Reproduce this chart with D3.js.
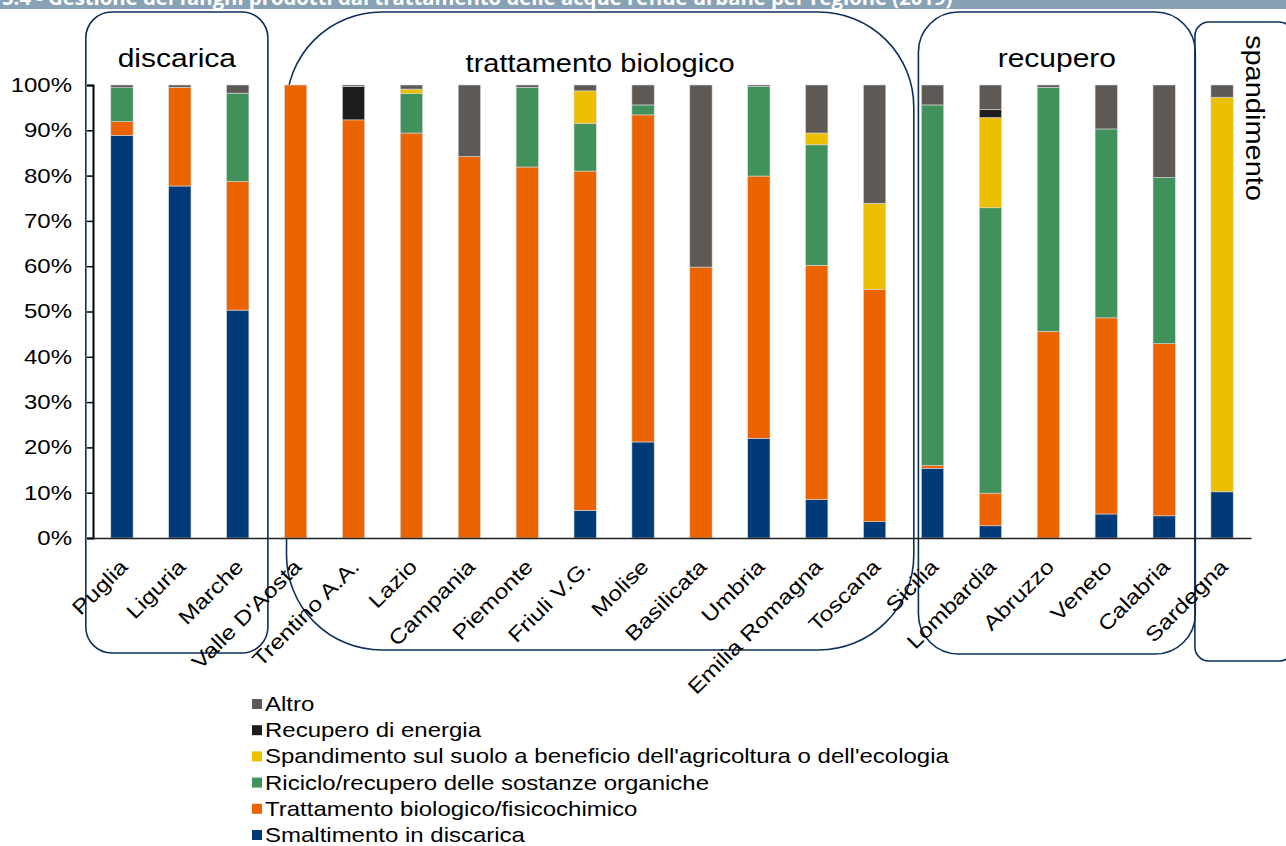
<!DOCTYPE html>
<html>
<head>
<meta charset="utf-8">
<script src="https://cdn.jsdelivr.net/npm/d3@7"></script>
<style>
  html, body { margin: 0; padding: 0; background: #fff; }
  svg { display: block; }
</style>
</head>
<body>
<svg id="chart" width="1286" height="846"></svg>
<script>
// Regions, ordered by prevalent sludge destination
const regions = ["Puglia", "Liguria", "Marche", "Valle D'Aosta", "Trentino A.A.", "Lazio", "Campania",
  "Piemonte", "Friuli V.G.", "Molise", "Basilicata", "Umbria", "Emilia Romagna", "Toscana",
  "Sicilia", "Lombardia", "Abruzzo", "Veneto", "Calabria", "Sardegna"];

// Shares (%) of each destination, per region
const smaltimento = [88.9, 77.7, 50.3, 0, 0, 0, 0, 0, 6.1, 21.2, 0, 22.0, 8.5, 3.6, 15.4, 2.7, 0, 5.3, 4.9, 10.2];
const trattamento = [3.0, 21.8, 28.4, 100, 92.3, 89.4, 84.2, 81.9, 74.9, 72.2, 59.8, 57.9, 51.7, 51.3, 0.6, 7.2, 45.6, 43.3, 38.0, 0];
const riciclo     = [7.5, 0, 19.5, 0, 0, 8.7, 0, 17.6, 10.5, 2.2, 0, 19.8, 26.6, 0, 79.6, 63.0, 53.9, 41.7, 36.7, 0];
const spandimento = [0, 0, 0, 0, 0, 1.0, 0, 0, 7.2, 0, 0, 0, 2.6, 19.0, 0, 19.9, 0, 0, 0, 87.1];
const energia     = [0, 0, 0, 0, 7.4, 0, 0, 0, 0, 0, 0, 0, 0, 0, 0, 1.8, 0, 0, 0, 0];
const altro       = [0.6, 0.5, 1.8, 0, 0.3, 0.9, 15.8, 0.5, 1.3, 4.4, 40.2, 0.3, 10.6, 26.1, 4.4, 5.4, 0.5, 9.7, 20.4, 2.7];

// Series, bottom to top in the stack
const seriesKeys = ["smaltimento", "trattamento", "riciclo", "spandimento", "energia", "altro"];
const seriesValues = { smaltimento, trattamento, riciclo, spandimento, energia, altro };
const seriesNames = {
  smaltimento: "Smaltimento in discarica",
  trattamento: "Trattamento biologico/fisicochimico",
  riciclo: "Riciclo/recupero delle sostanze organiche",
  spandimento: "Spandimento sul suolo a beneficio dell'agricoltura o dell'ecologia",
  energia: "Recupero di energia",
  altro: "Altro"
};
const seriesColors = {
  smaltimento: "#003a78",
  trattamento: "#ec6400",
  riciclo: "#41915b",
  spandimento: "#ecbf00",
  energia: "#1e1d1b",
  altro: "#5e5955"
};

// Y ticks
const yTicks = [0, 0.1, 0.2, 0.3, 0.4, 0.5, 0.6, 0.7, 0.8, 0.9, 1.0];

// Groups of regions framed by rounded boxes
const groups = [
  { label: "discarica", first: "Puglia", last: "Marche" },
  { label: "trattamento biologico", first: "Valle D'Aosta", last: "Toscana" },
  { label: "recupero", first: "Sicilia", last: "Calabria" },
  { label: "spandimento", first: "Sardegna", last: "Sardegna", vertical: true }
];

const FONT = "Liberation Sans, Arial, Helvetica, sans-serif";
const SX = 1.2; // wide lettering: horizontal stretch applied to the chart texts
const svg = d3.select("#chart");

// Heading band at the top edge (text shows only its lower part)
svg.append("clipPath").attr("id", "bandClip")
  .append("rect").attr("x", 0).attr("y", 0).attr("width", 1286).attr("height", 9);
svg.append("rect").attr("x", 0).attr("y", 0).attr("width", 1286).attr("height", 9).attr("fill", "#87a1b5");
svg.append("text")
  .attr("x", 2).attr("y", 5)
  .attr("clip-path", "url(#bandClip)")
  .attr("font-family", "Open Sans, Noto Sans, sans-serif")
  .attr("font-weight", "bold")
  .attr("font-size", 20.3)
  .attr("fill", "#fff")
  .text("5.4 - Gestione dei fanghi prodotti dal trattamento delle acque reflue urbane per regione (2019)");

// Scales
const x = d3.scaleBand().domain(regions).range([93, 1251]).paddingInner(0.615).paddingOuter(0.3075);
const y = d3.scaleLinear().domain([0, 1]).range([538, 85]);

// Stacked data
const rows = regions.map((r, i) => {
  const o = { region: r };
  seriesKeys.forEach(k => { o[k] = seriesValues[k][i] / 100; });
  return o;
});
const stacked = d3.stack().keys(seriesKeys)(rows);

// Group frames (drawn under bars)
const frameGeom = [
  { padL: 25, padR: 19, top: 12, bottom: 653, r: 26 },
  { padL: -2, padR: 28, top: 12, bottom: 650, r: 95 },
  { padL: 3, padR: 20, top: 12, bottom: 654, r: 40 },
  { padL: 16, padR: 60, top: 22, bottom: 661, r: 14 }
];
const frames = svg.append("g");
groups.forEach((g, i) => {
  const f = frameGeom[i];
  const x0 = x(g.first) - f.padL;
  const x1 = x(g.last) + x.bandwidth() + f.padR;
  frames.append("rect")
    .attr("x", x0).attr("y", f.top)
    .attr("width", x1 - x0).attr("height", f.bottom - f.top)
    .attr("rx", f.r).attr("ry", f.r)
    .attr("fill", "none").attr("stroke", "#0d2f5e").attr("stroke-width", 1.6);
});

// Bars
svg.append("g")
  .selectAll("g")
  .data(stacked)
  .join("g")
  .attr("fill", d => seriesColors[d.key])
  .selectAll("rect")
  .data(d => d.filter(s => s[1] - s[0] > 0))
  .join("rect")
  .attr("x", d => x(d.data.region))
  .attr("width", x.bandwidth())
  .attr("y", d => y(d[1]))
  .attr("height", d => y(d[0]) - y(d[1]))
  .attr("stroke", "#d8d8d8")
  .attr("stroke-width", 0.6);

// Y axis
const yAxis = svg.append("g")
  .attr("transform", "translate(93,0)")
  .call(d3.axisLeft(y).tickValues(yTicks).tickFormat(d3.format(".0%")).tickSize(6).tickPadding(15));
yAxis.select(".domain").attr("stroke", "#000").attr("stroke-width", 2);
yAxis.selectAll(".tick line").attr("stroke", "#000").attr("stroke-width", 1.5);
yAxis.selectAll(".tick text")
  .attr("font-family", FONT).attr("font-size", 20).attr("fill", "#000")
  .attr("x", -21 / SX)
  .attr("transform", `scale(${SX},1)`);

// X axis (baseline only) with rotated labels
const xAxis = svg.append("g")
  .attr("transform", "translate(0,538)")
  .call(d3.axisBottom(x).tickSize(0).tickPadding(0));
xAxis.select(".domain").attr("stroke", "#222").attr("stroke-width", 1.5);
xAxis.selectAll(".tick text")
  .attr("font-family", FONT).attr("font-size", 20.5).attr("fill", "#000")
  .attr("text-anchor", "end")
  .attr("y", 0).attr("dy", 0)
  .attr("transform", `translate(7,30) rotate(-45) scale(${SX},1)`);

// Group labels
groups.forEach((g, i) => {
  const f = frameGeom[i];
  if (g.vertical) {
    const cx = x(g.first) + x.bandwidth() + 13;
    svg.append("text")
      .attr("transform", `translate(${cx},35) rotate(90) scale(1.16,1)`)
      .attr("font-family", FONT).attr("font-size", 25).attr("fill", "#000")
      .attr("text-anchor", "start")
      .text(g.label);
  } else {
    const cx = (x(g.first) + x(g.last) + x.bandwidth()) / 2 + (f.padR - f.padL) / 2;
    const sx = i === 1 ? 1.16 : SX;
    svg.append("text")
      .attr("transform", `translate(${cx},${i === 1 ? 72 : 67}) scale(${sx},1)`)
      .attr("font-family", FONT).attr("font-size", 25).attr("fill", "#000")
      .attr("text-anchor", "middle")
      .text(g.label);
  }
});

// Legend (top entry = top of stack)
const legendKeys = seriesKeys.slice().reverse();
const legend = svg.append("g").attr("transform", "translate(252,704)");
legendKeys.forEach((k, i) => {
  const row = legend.append("g").attr("transform", `translate(0,${i * 26.2})`);
  row.append("rect").attr("x", 0).attr("y", -5).attr("width", 10).attr("height", 10).attr("fill", seriesColors[k]);
  row.append("text")
    .attr("transform", `translate(13,0) scale(${SX},1)`)
    .attr("dy", "0.35em")
    .attr("font-family", FONT).attr("font-size", 20).attr("fill", "#000")
    .text(seriesNames[k]);
});
</script>
</body>
</html>
